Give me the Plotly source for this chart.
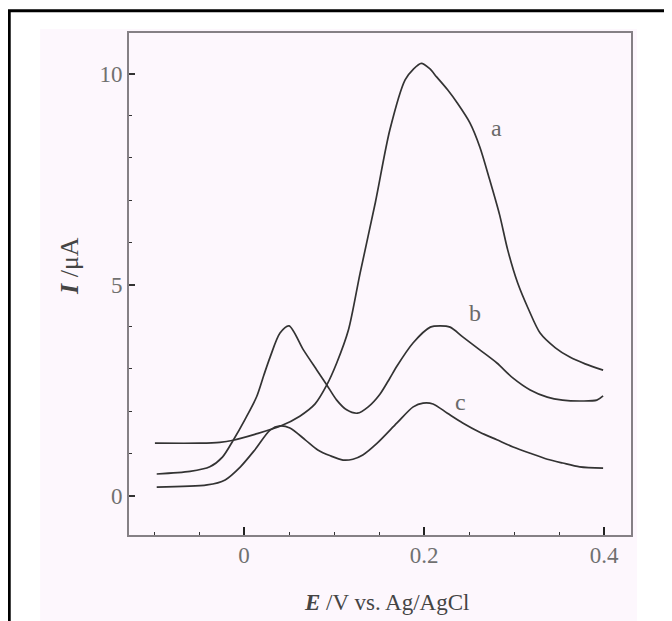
import plotly.graph_objects as go

# Data (E in V vs Ag/AgCl, I in µA)
E_a = [-0.099, -0.049, -0.027, -0.012, 0.012, 0.040, 0.062, 0.079, 0.092, 0.103, 0.116, 0.129, 0.146, 0.162, 0.179, 0.188, 0.197, 0.206, 0.214, 0.226, 0.237, 0.251, 0.262, 0.273, 0.284, 0.293, 0.304, 0.316, 0.329, 0.346, 0.362, 0.379, 0.399]
I_a = [1.24, 1.24, 1.26, 1.31, 1.45, 1.64, 1.88, 2.17, 2.62, 3.14, 3.92, 5.27, 6.95, 8.66, 9.85, 10.10, 10.24, 10.12, 9.92, 9.62, 9.30, 8.83, 8.26, 7.48, 6.65, 5.82, 5.04, 4.42, 3.85, 3.50, 3.28, 3.12, 2.97]

E_b = [-0.097, -0.060, -0.038, -0.024, -0.012, 0.001, 0.014, 0.022, 0.029, 0.040, 0.050, 0.066, 0.081, 0.092, 0.103, 0.114, 0.126, 0.138, 0.151, 0.162, 0.170, 0.188, 0.207, 0.218, 0.229, 0.243, 0.262, 0.281, 0.299, 0.318, 0.337, 0.354, 0.373, 0.392, 0.399]
I_b = [0.51, 0.57, 0.68, 0.91, 1.31, 1.80, 2.34, 2.85, 3.28, 3.85, 4.02, 3.45, 2.97, 2.62, 2.26, 2.03, 1.95, 2.10, 2.40, 2.78, 3.07, 3.62, 3.99, 4.02, 3.99, 3.76, 3.45, 3.14, 2.78, 2.50, 2.33, 2.26, 2.24, 2.26, 2.36]

E_c = [-0.097, -0.041, -0.021, -0.004, 0.012, 0.029, 0.040, 0.051, 0.068, 0.082, 0.096, 0.110, 0.121, 0.132, 0.148, 0.170, 0.188, 0.199, 0.210, 0.226, 0.243, 0.262, 0.281, 0.299, 0.318, 0.337, 0.354, 0.373, 0.399]
I_c = [0.20, 0.25, 0.37, 0.68, 1.08, 1.55, 1.65, 1.60, 1.32, 1.08, 0.94, 0.84, 0.86, 0.96, 1.24, 1.72, 2.10, 2.19, 2.17, 1.95, 1.72, 1.50, 1.32, 1.15, 1.00, 0.86, 0.77, 0.68, 0.65]

curve_labels = ["a", "b", "c"]
label_E = [0.281, 0.257, 0.240]
label_I = [8.71, 4.32, 2.22]

x_tickvals = [0, 0.2, 0.4]
x_ticktext = ["0", "0.2", "0.4"]
y_tickvals = [0, 5, 10]
y_ticktext = ["0", "5", "10"]

SERIF = "Liberation Serif, Times New Roman, serif"
LINE = "#333333"
AXIS = "#858085"
BG = "#fdf7fd"

fig = go.Figure()
for Ex, Iy in [(E_a, I_a), (E_b, I_b), (E_c, I_c)]:
    fig.add_trace(go.Scatter(x=Ex, y=Iy, mode="lines",
                             line=dict(color=LINE, width=1.7, shape="spline", smoothing=0.8),
                             showlegend=False, hoverinfo="skip"))

for t, ex, iy in zip(curve_labels, label_E, label_I):
    fig.add_annotation(x=ex, y=iy, text=t, showarrow=False,
                       font=dict(family=SERIF, size=24, color="#6a6a6a"))

# axis titles
fig.add_annotation(xref="paper", yref="paper", x=0.513, y=-0.1335, text="<b><i>E</i></b> /V vs. Ag/AgCl",
                   showarrow=False, xanchor="center", yanchor="middle",
                   font=dict(family=SERIF, size=23, color="#444444"))
fig.add_annotation(xref="paper", yref="paper", x=-0.1175, y=0.536, text="<b><i>I</i></b> /μA",
                   textangle=-90, showarrow=False, xanchor="center", yanchor="middle",
                   font=dict(family=SERIF, size=26, color="#444444"))

# background panel and outer frame
fig.add_shape(type="rect", xref="paper", yref="paper", x0=-0.177, x1=1.012, y0=-0.3, y1=1.008,
              fillcolor=BG, line=dict(width=0), layer="below")
fig.add_shape(type="rect", xref="paper", yref="paper", x0=-0.2386, x1=1.3, y0=-0.4, y1=1.0444,
              fillcolor="rgba(0,0,0,0)", line=dict(color="black", width=3), layer="above")

fig.update_xaxes(range=[-0.1278, 0.43], tickvals=x_tickvals, ticktext=x_ticktext,
                 ticks="inside", ticklen=8, tickwidth=1.6, tickcolor="#222222",
                 minor=dict(dtick=0.05, tick0=0, ticks="inside", ticklen=3, tickwidth=1.3, tickcolor="#333333"),
                 showline=True, linecolor=AXIS, linewidth=2, mirror=True,
                 showgrid=False, zeroline=False, ticklabelstandoff=-2,
                 tickfont=dict(family=SERIF, size=23, color="#707070"))
fig.update_yaxes(range=[-0.936, 10.96], tickvals=y_tickvals, ticktext=y_ticktext,
                 ticks="inside", ticklen=6, tickwidth=1.5, tickcolor="#333333",
                 minor=dict(dtick=1, tick0=0, ticks="inside", ticklen=3, tickwidth=1.3, tickcolor="#333333"),
                 showline=True, linecolor=AXIS, linewidth=2, mirror=True,
                 showgrid=False, zeroline=False, ticklabelstandoff=0,
                 tickfont=dict(family=SERIF, size=23, color="#707070"))

fig.update_layout(width=672, height=621, margin=dict(l=121, r=49, t=25, b=94),
                  paper_bgcolor="white", plot_bgcolor=BG, showlegend=False)

fig.write_html("out.html")
